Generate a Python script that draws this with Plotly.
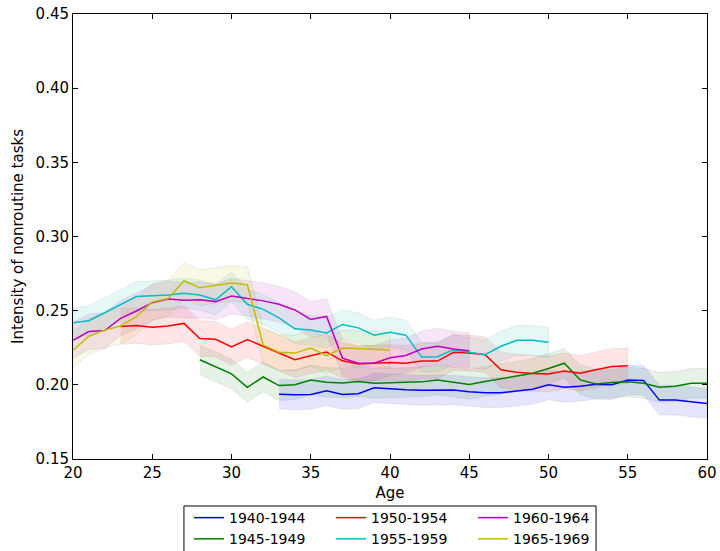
import plotly.graph_objects as go

ages_1940 = list(range(33, 61))
val_1940 = [0.1937, 0.1933, 0.1935, 0.1960, 0.1935, 0.1940, 0.1980, 0.1972, 0.1967, 0.1963,
            0.1965, 0.1965, 0.1954, 0.1947, 0.1947, 0.1960, 0.1970, 0.2000, 0.1983, 0.1990,
            0.2004, 0.2000, 0.2033, 0.2030, 0.1897, 0.1897, 0.1883, 0.1874]

ages_1945 = list(range(28, 61))
val_1945 = [0.2169, 0.2119, 0.2074, 0.1983, 0.2053, 0.1995, 0.2001, 0.2033, 0.2017, 0.2012,
            0.2022, 0.2010, 0.2015, 0.2015, 0.2020, 0.2033, 0.2020, 0.2003, 0.2023, 0.2042,
            0.2056, 0.2078, 0.2110, 0.2146, 0.2033, 0.2006, 0.2015, 0.2020, 0.2010, 0.1983,
            0.1990, 0.2010, 0.2010]

ages_1950 = list(range(23, 56))
val_1950 = [0.2393, 0.2400, 0.2389, 0.2396, 0.2414, 0.2312, 0.2307, 0.2255, 0.2305, 0.2260,
            0.2214, 0.2169, 0.2196, 0.2221, 0.2162, 0.2140, 0.2146, 0.2150, 0.2146, 0.2160,
            0.2160, 0.2219, 0.2215, 0.2203, 0.2101, 0.2085, 0.2076, 0.2073, 0.2094, 0.2078,
            0.2101, 0.2124, 0.2128]

ages_1955 = list(range(20, 51))
val_1955 = [0.2418, 0.2432, 0.2486, 0.2543, 0.2595, 0.2600, 0.2605, 0.2618, 0.2605, 0.2573,
            0.2661, 0.2543, 0.2509, 0.2452, 0.2378, 0.2369, 0.2350, 0.2407, 0.2384, 0.2335,
            0.2355, 0.2335, 0.2187, 0.2190, 0.2237, 0.2219, 0.2203, 0.2260, 0.2300, 0.2300,
            0.2287]

ages_1960 = list(range(20, 46))
val_1960 = [0.2300, 0.2359, 0.2366, 0.2448, 0.2498, 0.2554, 0.2579, 0.2570, 0.2573, 0.2561,
            0.2598, 0.2582, 0.2566, 0.2543, 0.2505, 0.2441, 0.2461, 0.2180, 0.2146, 0.2146,
            0.2183, 0.2198, 0.2241, 0.2260, 0.2241, 0.2230]

ages_1965 = list(range(20, 41))
val_1965 = [0.2233, 0.2328, 0.2369, 0.2396, 0.2459, 0.2559, 0.2582, 0.2702, 0.2654, 0.2672,
            0.2686, 0.2675, 0.2268, 0.2220, 0.2214, 0.2248, 0.2196, 0.2248, 0.2245, 0.2240,
            0.2233]

# half-width of the shaded confidence band, per cohort
band_1940 = 0.010
band_1945 = 0.010
band_1950 = 0.012
band_1955 = 0.010
band_1960 = 0.012
band_1965 = 0.012

# name, ages, values, band, colour, legend column
cohorts = [
    ("1940-1944", ages_1940, val_1940, band_1940, (0, 0, 255), "legend"),
    ("1945-1949", ages_1945, val_1945, band_1945, (0, 128, 0), "legend"),
    ("1950-1954", ages_1950, val_1950, band_1950, (255, 0, 0), "legend2"),
    ("1955-1959", ages_1955, val_1955, band_1955, (0, 191, 191), "legend2"),
    ("1960-1964", ages_1960, val_1960, band_1960, (191, 0, 191), "legend3"),
    ("1965-1969", ages_1965, val_1965, band_1965, (191, 191, 0), "legend3"),
]

fig = go.Figure()

for name, ages, vals, band, (r, g, b), leg in cohorts:
    upper = [v + band for v in vals]
    lower = [v - band for v in vals]
    fig.add_trace(go.Scatter(
        x=ages + ages[::-1], y=upper + lower[::-1],
        fill="toself", fillcolor=f"rgba({r},{g},{b},0.1)",
        line=dict(color="rgba(120,120,120,0.14)", width=1),
        mode="lines", hoverinfo="skip", showlegend=False,
    ))

for name, ages, vals, band, (r, g, b), leg in cohorts:
    fig.add_trace(go.Scatter(
        x=ages, y=vals, name=name, mode="lines",
        line=dict(color=f"rgb({r},{g},{b})", width=1.5),
        legend=leg,
    ))

axis_style = dict(
    showgrid=False, zeroline=False, showline=True, linecolor="black", linewidth=1,
    mirror="ticks", ticks="inside", ticklen=5, tickcolor="black",
    tickfont=dict(size=15, color="black"), automargin=False,
)

fig.update_xaxes(range=[20, 60], tickvals=[20, 25, 30, 35, 40, 45, 50, 55, 60],
                 title=dict(text="Age", font=dict(size=15, color="black"), standoff=6),
                 **axis_style)
fig.update_yaxes(range=[0.15, 0.45], tickvals=[0.15, 0.2, 0.25, 0.3, 0.35, 0.4, 0.45],
                 tickformat=".2f",
                 title=dict(text="Intensity of nonroutine tasks", font=dict(size=15, color="black"), standoff=8),
                 **axis_style)

leg_style = dict(
    orientation="v", xanchor="left", y=-0.0967, yanchor="top",
    bgcolor="rgba(0,0,0,0)", borderwidth=0,
    font=dict(size=14, color="black"), tracegroupgap=0,
)

fig.update_layout(
    width=720, height=551,
    margin=dict(l=73, r=13, t=14, b=92, autoexpand=False),
    plot_bgcolor="white", paper_bgcolor="white",
    font=dict(family="DejaVu Sans", color="black"),
    legend=dict(x=0.183, **leg_style),
    legend2=dict(x=0.407, **leg_style),
    legend3=dict(x=0.631, **leg_style),
    shapes=[dict(type="rect", xref="paper", yref="paper",
                 x0=0.175, x1=0.825, y0=-0.1056, y1=-0.25,
                 line=dict(color="black", width=1), fillcolor="rgba(0,0,0,0)",
                 layer="below")],
)

# drop the browser's default 8px body margin so the figure sits at the page origin
fig.write_html("out.html", config={"displayModeBar": False},
               post_script="document.body.style.margin='0px';")
